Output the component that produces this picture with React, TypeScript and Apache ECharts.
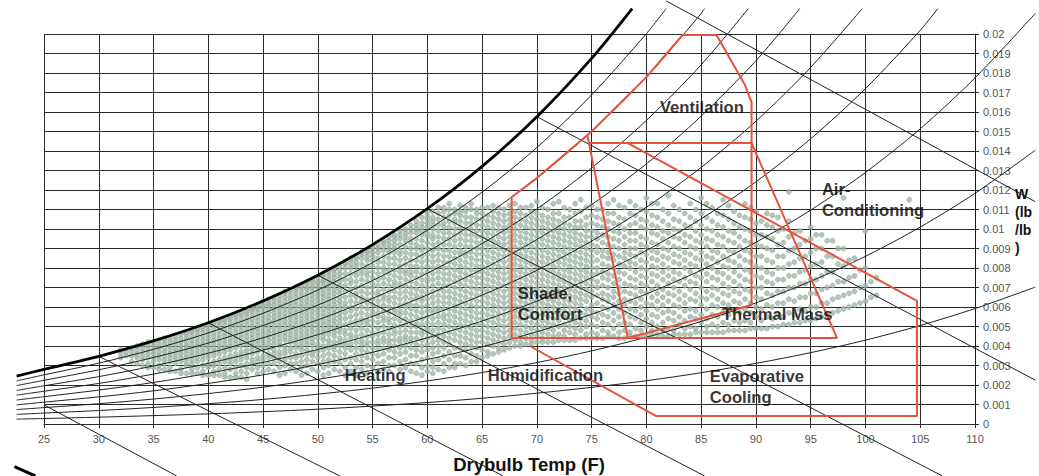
import { useEffect, useRef } from "react";
import * as echarts from "echarts";

const FONT = '"Liberation Sans", Arial, sans-serif';

// Saturation curve and relative-humidity curves (drybulb °F, humidity ratio lb/lb)
const saturation: [number, number][] = [[22.5,0.00246],[25,0.0028],[30,0.00347],[35,0.00426],[40,0.00519],[45,0.00631],[50,0.00763],[55,0.0092],[60,0.01104],[65,0.01321],[70,0.01576],[75,0.01875],[78.7,0.0213]];
const rh90: [number, number][] = [[22.5,0.00221],[25,0.00252],[30,0.00312],[35,0.00383],[40,0.00467],[45,0.00568],[50,0.00687],[55,0.00828],[60,0.00994],[65,0.01189],[70,0.01418],[75,0.01688],[80,0.02002],[81.8,0.0213]];
const rh80: [number, number][] = [[22.5,0.00197],[25,0.00224],[30,0.00278],[35,0.00341],[40,0.00415],[45,0.00505],[50,0.0061],[55,0.00736],[60,0.00883],[65,0.01057],[70,0.01261],[75,0.015],[80,0.01779],[85,0.02105],[85.3,0.0213]];
const rh70: [number, number][] = [[22.5,0.00172],[25,0.00196],[30,0.00243],[35,0.00298],[40,0.00363],[45,0.00442],[50,0.00534],[55,0.00644],[60,0.00773],[65,0.00925],[70,0.01103],[75,0.01313],[80,0.01557],[85,0.01842],[89.3,0.0213]];
const rh60: [number, number][] = [[22.5,0.00148],[25,0.00168],[30,0.00208],[35,0.00256],[40,0.00311],[45,0.00379],[50,0.00458],[55,0.00552],[60,0.00662],[65,0.00793],[70,0.00946],[75,0.01125],[80,0.01334],[85,0.01579],[90,0.01863],[94,0.0213]];
const rh50: [number, number][] = [[22.5,0.00123],[25,0.0014],[30,0.00174],[35,0.00213],[40,0.0026],[45,0.00316],[50,0.00382],[55,0.0046],[60,0.00552],[65,0.00661],[70,0.00788],[75,0.00938],[80,0.01112],[85,0.01316],[90,0.01553],[95,0.01829],[99.7,0.0213]];
const rh40: [number, number][] = [[22.5,0.00098],[25,0.00112],[30,0.00139],[35,0.0017],[40,0.00208],[45,0.00252],[50,0.00305],[55,0.00368],[60,0.00442],[65,0.00528],[70,0.0063],[75,0.0075],[80,0.0089],[85,0.01052],[90,0.01242],[95,0.01463],[100,0.0172],[105,0.02019],[106.6,0.0213]];
const rh30: [number, number][] = [[22.5,0.00074],[25,0.00084],[30,0.00104],[35,0.00128],[40,0.00156],[45,0.00189],[50,0.00229],[55,0.00276],[60,0.00331],[65,0.00396],[70,0.00473],[75,0.00563],[80,0.00667],[85,0.00789],[90,0.00932],[95,0.01097],[100,0.0129],[105,0.01514],[110,0.01775],[115.5,0.02105]];
const rh20: [number, number][] = [[22.5,0.00049],[25,0.00056],[30,0.00069],[35,0.00085],[40,0.00104],[45,0.00126],[50,0.00153],[55,0.00184],[60,0.00221],[65,0.00264],[70,0.00315],[75,0.00375],[80,0.00445],[85,0.00526],[90,0.00621],[95,0.00732],[100,0.0086],[105,0.0101],[110,0.01183],[115.5,0.01404]];
const rh10: [number, number][] = [[22.5,0.00025],[25,0.00028],[30,0.00035],[35,0.00043],[40,0.00052],[45,0.00063],[50,0.00076],[55,0.00092],[60,0.0011],[65,0.00132],[70,0.00158],[75,0.00188],[80,0.00222],[85,0.00263],[90,0.00311],[95,0.00366],[100,0.0043],[105,0.00505],[110,0.00592],[115.5,0.00702]];

// Wet-bulb lines
const wb20: [number, number][] = [[25,0.00098],[37.1,-0.00266]];
const wb30: [number, number][] = [[30,0.00347],[52,-0.00266]];
const wb40: [number, number][] = [[40,0.00519],[66.9,-0.00266]];
const wb50: [number, number][] = [[50,0.00763],[85.3,-0.00266]];
const wb60: [number, number][] = [[60,0.01104],[107,-0.00266]];
const wb70: [number, number][] = [[70,0.01576],[115.5,0.00225]];
const wb80: [number, number][] = [[81.8,0.0217],[115.5,0.0114]];
const stub: [number, number][] = [[22.3,-0.00219],[24.2,-0.00266]];

// Design-strategy zones (red outlines)
const comfortOutline: [number, number][] = [[67.7,0.00441],[67.7,0.01164],[70,0.01261],[75,0.015],[80,0.01779],[83.3,0.01995],[86.4,0.01995],[89,0.01738],[89.6,0.01651],[89.6,0.0061],[78.3,0.00441],[67.7,0.00441]];
const comfortDiagonal: [number, number][] = [[74.6,0.01484],[78.3,0.00441]];
const comfortTop: [number, number][] = [[74.75,0.01441],[89.6,0.01441]];
const thermalMass: [number, number][] = [[89.6,0.01441],[97.4,0.00441],[78.3,0.00441]];
const acEvap: [number, number][] = [[78.3,0.01441],[104.7,0.00631],[104.7,0.00041],[80.9,0.00041],[69.35,0.004]];

// Hourly weather points: drybulb column and humidity ratios (x 1e-4)
const cloudTemps = [32,33,34,35,36,37,38,39,40,41,42,43,44,45,46,47,48,49,50,51,52,53,54,55,56,57,58,59,60,61,62,63,64,65,66,67,68,69,70,71,72,73,74,75,76,77,78,79,80,81,82,83,84,85,86,87,88,89,90,91,92,93,94,95,96,97,98,99,100,101];
const cloudHumidity = [
  "34 36 38",
  "32 35 37 39",
  "30 33 35 37 39 41",
  "29 32 34 36 38 40 42",
  "28 31 33 35 37 39 41 43 44",
  "27 31 33 35 37 39 41 43 45",
  "26 30 32 34 36 38 40 42 44 46 47",
  "26 29 32 34 36 38 40 42 44 46 48 49",
  "25 29 31 34 36 38 40 42 44 46 48 50 51",
  "25 28 31 33 36 38 40 42 44 46 48 50 52 53",
  "24 28 31 33 35 38 40 42 44 46 48 50 52 54 55",
  "24 27 30 33 35 37 40 42 44 46 48 50 52 54 56 57",
  "28 31 33 36 38 40 42 44 46 48 50 52 54 56 58 59 60",
  "27 30 33 35 38 40 42 44 46 48 50 52 54 56 58 60 61 63",
  "27 31 34 36 38 41 43 45 47 49 51 53 55 57 59 61 63 65",
  "26 30 33 36 38 40 43 45 47 49 51 53 55 57 59 61 63 65 67 68",
  "27 31 34 36 39 41 43 45 47 49 51 53 55 57 59 61 63 65 67 69 70",
  "26 30 33 36 38 41 43 45 47 49 51 53 55 57 59 61 63 65 67 69 70 72 73",
  "27 31 34 37 39 41 44 46 48 50 52 54 56 58 60 62 64 66 68 70 72 73 75",
  "26 30 33 36 39 41 43 46 48 50 52 54 56 58 60 62 64 66 68 70 72 74 76 78 79",
  "27 31 34 37 40 42 44 47 49 51 53 55 57 59 61 63 65 67 69 71 73 75 77 79 81",
  "27 31 34 38 41 44 46 49 52 55 58 60 63 66 69 72 74 77 80 82 84 85",
  "28 32 35 38 41 43 46 49 52 54 57 60 63 65 68 71 74 77 79 82 85 87 88",
  "29 33 36 39 42 45 47 50 53 56 58 61 64 67 70 72 75 78 81 84 86 88 90 91",
  "28 32 36 39 42 44 47 50 53 55 58 61 64 66 69 72 75 78 80 83 86 89 91 93 94",
  "30 34 37 40 43 46 48 51 54 57 59 62 65 68 71 73 76 79 82 85 88 90 92 94 96 97",
  "29 33 37 40 43 45 48 51 54 57 60 62 65 68 71 74 77 79 82 85 88 91 94 96 98 100",
  "26 31 35 38 41 44 47 50 52 55 58 61 64 66 69 72 75 78 81 84 87 90 92 95 98 100 102 104",
  "27 30 34 38 41 44 47 49 52 55 58 61 64 67 70 73 75 78 81 84 87 90 93 96 98 101 103 105 107 109",
  "28 33 37 40 43 46 49 52 55 58 60 63 66 69 72 75 78 81 84 87 90 93 96 99 102 105 108 111",
  "29 33 37 41 44 47 50 53 56 59 62 65 68 71 74 77 80 83 86 89 92 95 98 101 104 107 110 113",
  "31 35 39 42 45 48 51 54 57 60 63 66 69 72 75 78 81 84 87 89 92 95 98 101 104 107 109 112",
  "32 36 40 43 46 49 52 55 58 61 64 67 70 73 76 79 82 85 88 91 94 97 100 103 106 110 113",
  "34 38 42 45 48 51 54 57 60 63 66 69 72 75 78 81 84 87 90 93 96 99 102 105 108 111",
  "36 40 43 46 49 52 55 58 61 64 67 70 73 76 79 82 85 88 91 94 97 100 103 106 109 112",
  "38 41 44 47 50 53 56 59 62 65 68 71 74 77 80 83 86 89 92 95 98 101 104 107 110",
  "40 43 46 49 52 55 58 61 64 67 70 73 76 79 82 85 88 91 94 97 100 103 106 109 113",
  "41 44 47 50 53 56 59 62 65 68 71 74 77 80 83 86 89 92 95 98 101 104 107 111",
  "42 45 48 51 54 57 60 63 66 69 72 75 78 81 84 87 90 93 96 99 102 105 108 114",
  "42 46 49 52 55 58 61 64 67 70 73 76 79 82 85 88 91 94 97 100 103 106 110",
  "43 46 50 53 56 59 62 65 68 71 74 77 80 83 86 89 92 95 98 101 104 108 114",
  "43 47 50 53 57 60 63 66 69 72 75 78 81 84 87 90 93 96 99 102 106 110",
  "44 48 51 54 57 61 64 67 70 73 76 79 82 85 88 91 94 97 101 104 109 115",
  "44 47 51 55 58 61 65 68 71 74 77 80 83 86 89 92 96 99 103 107 112",
  "44 48 52 56 60 64 67 71 75 78 82 86 89 93 97 101 105 110",
  "45 49 53 57 61 65 68 72 76 80 84 87 91 95 99 103 108 115",
  "44 48 52 57 61 64 68 72 77 81 85 88 92 96 100 105 111",
  "45 49 54 58 62 66 70 74 78 82 86 90 94 98 103 107 112",
  "45 50 54 58 62 67 71 75 79 83 87 91 95 100 104 109 116",
  "46 50 55 59 63 67 71 76 80 84 88 92 97 101 106 113",
  "45 49 54 58 63 67 72 76 80 85 89 93 98 102 108 117",
  "46 51 55 60 64 68 73 77 82 86 90 95 99 104 110",
  "46 50 55 59 64 69 73 78 82 87 91 96 101 106 113",
  "47 52 56 61 65 70 75 79 84 88 93 97 102 108 116",
  "47 51 56 61 66 70 75 80 85 89 94 99 104 111",
  "47 52 57 62 67 72 77 81 86 91 96 101 107 115",
  "48 53 58 63 68 73 78 83 88 93 98 103 109",
  "48 53 59 64 69 74 79 84 89 94 100 106 113",
  "49 55 60 65 70 76 81 86 92 97 103 109",
  "49 55 61 67 73 78 84 90 96 102 108",
  "50 56 62 68 74 80 86 92 99 106",
  "51 57 64 70 76 82 89 96 104",
  "52 59 65 72 78 85 92 99",
  "53 60 67 74 81 88 95 101",
  "55 62 69 76 83 90 97",
  "57 64 71 78 86 94",
  "59 66 73 81 90 116",
  "61 68 76 85",
  "63 71 80 99",
  "66 75"
];
const cloudHalfTemps = [32.5,33.5,34.5,35.5,36.5,37.5,38.5,39.5,40.5,41.5,42.5,43.5,44.5,45.5,46.5,47.5,48.5,49.5,50.5,51.5,52.5,53.5,54.5,55.5,56.5,57.5,58.5,59.5,60.5,61.5,62.5,63.5,64.5,65.5,66.5,67.5,68.5,69.5,70.5,71.5,72.5,73.5,74.5,75.5,76.5,77.5,78.5,79.5,80.5,81.5,82.5,83.5,84.5,85.5,86.5,87.5,88.5,89.5,90.5,91.5,92.5,93.5,94.5,95.5,96.5,97.5,98.5,99.5,100.5];
const cloudHalfHumidity = [
  "35 37",
  "31 34 36 38 40",
  "29 31 34 36 38 40 42",
  "28 30 33 35 37 39 41 43",
  "27 29 32 34 36 38 40 42 44",
  "26 28 32 34 36 38 40 42 44 46",
  "26 28 31 33 35 37 39 41 43 45 47 48",
  "25 27 30 33 35 37 39 41 43 45 47 49 50",
  "25 27 30 32 35 37 39 41 43 45 47 49 51 52",
  "24 26 29 32 34 37 39 41 43 45 47 49 51 53 54",
  "24 26 29 32 34 36 39 41 43 45 47 49 51 53 55 56",
  "23 26 29 31 34 36 38 41 43 45 47 49 51 53 55 57 58",
  "26 29 32 34 37 39 41 43 45 47 49 51 53 55 57 59 60 61",
  "28 31 34 36 39 41 43 45 47 49 51 53 55 57 59 61 62 64",
  "25 29 32 35 37 40 42 44 46 48 50 52 54 56 58 60 62 64 66",
  "28 31 34 37 39 42 44 46 48 50 52 54 56 58 60 62 64 66 68",
  "25 29 32 35 38 40 42 44 46 48 50 52 54 56 58 60 62 64 66 68 70 71",
  "28 32 35 37 40 42 44 46 48 50 52 54 56 58 60 62 64 66 68 70 71 73 74",
  "25 29 32 35 38 40 43 45 47 49 51 53 55 57 59 61 63 65 67 69 71 73 74 76 77",
  "28 32 35 38 40 42 45 47 49 51 53 55 57 59 61 63 65 67 69 71 73 75 77 79 80",
  "25 29 33 36 39 41 43 46 48 51 54 57 60 62 65 68 71 74 77 80 82 83",
  "25 29 33 36 39 42 45 48 51 53 56 59 62 65 67 70 73 76 78 81 83 85 86",
  "26 30 34 37 40 42 45 48 51 53 56 59 62 64 67 70 73 76 78 81 84 86 88 89",
  "27 31 35 38 41 43 46 49 52 55 57 60 63 66 68 71 74 77 80 83 85 88 90 92",
  "27 30 34 38 41 43 46 49 52 54 57 60 63 65 68 71 74 77 79 82 85 88 90 92 94 96",
  "28 32 36 39 42 44 47 50 53 56 58 61 64 67 70 72 75 78 81 84 87 89 92 95 97 99",
  "27 31 35 39 42 44 47 50 53 56 59 61 64 67 70 73 76 78 81 84 87 90 93 95 98 100 102",
  "25 29 33 37 40 43 46 48 51 54 57 60 63 65 68 71 74 77 80 83 86 89 91 94 97 99 101 103 106",
  "26 29 32 36 39 42 45 48 51 54 57 59 62 65 68 71 74 77 80 83 86 89 92 95 97 100 102 104 106 109",
  "27 31 35 39 42 45 48 51 54 56 59 62 65 68 71 74 77 80 83 86 89 92 95 98 101 103 106 109 111",
  "29 31 35 39 43 46 49 52 55 58 61 64 67 70 73 76 79 82 85 88 91 94 97 100 103 105 108 110",
  "30 34 38 41 44 47 50 53 56 59 62 65 68 71 74 77 80 83 86 88 91 94 97 100 103 106 109 111",
  "32 35 39 42 45 48 51 54 57 60 63 66 69 72 75 78 81 84 87 90 93 96 99 102 105 108 110",
  "35 37 41 44 47 50 53 56 59 62 65 68 71 74 77 80 83 86 89 92 95 98 101 104 107 111",
  "37 39 42 45 48 51 54 57 60 63 66 69 72 75 78 81 84 87 90 93 96 99 102 105 108 111",
  "39 42 45 48 51 54 57 60 63 66 69 72 75 78 81 84 87 90 93 96 99 102 105 108 112",
  "40 42 45 48 51 54 57 60 63 66 69 72 75 78 81 84 87 90 93 96 99 102 105 108 111",
  "41 43 46 49 52 55 58 61 64 67 70 73 76 79 82 85 88 91 94 97 100 103 106 109 112",
  "42 44 47 50 53 56 59 62 65 68 71 74 77 80 83 86 89 92 95 98 101 104 107 111",
  "42 45 48 51 54 57 60 63 66 69 72 75 78 81 84 87 90 93 96 99 102 105 108 113",
  "43 45 48 51 55 58 61 64 67 70 73 76 79 82 85 88 91 94 97 100 103 106 111",
  "43 46 49 52 55 59 62 65 68 71 74 77 80 83 86 89 92 95 98 101 104 108 113",
  "44 46 50 53 56 59 63 66 69 72 75 78 81 84 87 90 93 96 99 102 106 111",
  "44 46 50 54 57 62 66 70 73 77 80 84 88 91 95 98 102 106 110",
  "45 47 51 55 59 63 66 70 74 77 81 85 88 92 96 100 104 108 113",
  "44 47 51 55 59 63 67 70 74 78 82 86 90 94 98 102 106 112",
  "45 47 51 55 59 63 67 71 75 80 83 87 90 94 98 102 108 114",
  "45 48 52 56 60 64 68 72 76 80 84 88 92 96 101 105 110",
  "46 48 52 56 61 65 69 73 77 81 85 89 93 98 102 107 113",
  "45 48 52 57 61 65 69 74 78 82 86 90 95 99 104 110",
  "46 48 53 57 61 66 70 74 78 83 87 91 96 100 105 112",
  "46 49 53 58 62 66 71 75 80 84 88 93 97 102 108",
  "47 49 54 58 63 67 72 76 81 85 90 94 99 104 110",
  "47 50 54 59 64 68 73 77 82 86 91 95 100 106 113",
  "47 50 55 60 64 69 74 78 83 88 92 97 102 108",
  "48 51 56 61 66 70 75 80 84 89 94 99 105 112",
  "48 52 57 62 67 71 76 81 86 91 96 101 107",
  "49 52 57 62 68 73 78 83 88 93 99 105 111",
  "49 53 59 64 70 75 80 86 91 97 104",
  "50 54 60 66 72 77 83 89 95 101 107",
  "51 55 62 68 74 80 86 93 100",
  "52 56 63 70 76 83 90 98",
  "53 58 65 72 79 86 94",
  "54 60 67 74 82 90 97",
  "56 62 70 78 86 94",
  "58 65 73 82 90",
  "60 67 75 84",
  "62 70 79",
  "65 73"
];
const cloudOutliers: [number, number][] = [[104,0.0115],[93,0.0119]];

// Zone labels
const zoneNames = ["Ventilation","Air-\nConditioning","Shade,\nComfort","Thermal Mass","Heating","Humidification","Evaporative\nCooling"];
const zoneTemps = [81.23,96.02,68.26,86.89,52.46,65.52,85.79];
const zoneHumidity = [0.016256,0.011487,0.006179,0.005641,0.002462,0.002462,0.001923];

const xTitle = "Drybulb Temp (F)";
const yTitle = "W\n(lb\n/lb\n)";

// Plot frame: drybulb 25..110 °F, humidity ratio 0..0.02
const xMin = 25, xMax = 110, yMin = 0, yMax = 0.02;
const gridLeft = 44, gridRight = 64, gridTop = 34, gridBottom = 52;
const W_PX = 1039, H_PX = 476;

export default function App() {
  const ref = useRef<HTMLDivElement>(null);
  useEffect(() => {
    if (!ref.current) return;
    const chart = echarts.init(ref.current, undefined, { renderer: "svg" });

    const cloud: [number, number][] = [];
    cloudTemps.forEach((t, i) => {
      cloudHumidity[i].split(" ").forEach((w) => cloud.push([t, Number(w) / 10000]));
    });
    cloudHalfTemps.forEach((t, i) => {
      cloudHalfHumidity[i].split(" ").forEach((w) => cloud.push([t, Number(w) / 10000]));
    });
    cloudOutliers.forEach((p) => cloud.push(p));

    // full-canvas coordinate system aligned with the plot frame, so curves may run past the frame
    const plotW = W_PX - gridLeft - gridRight;
    const plotH = H_PX - gridTop - gridBottom;
    const fxMin = xMin - (gridLeft * (xMax - xMin)) / plotW;
    const fxMax = xMax + (gridRight * (xMax - xMin)) / plotW;
    const fyMin = yMin - (gridBottom * (yMax - yMin)) / plotH;
    const fyMax = yMax + (gridTop * (yMax - yMin)) / plotH;

    const onFull = { xAxisIndex: 1, yAxisIndex: 1 };
    const thin = (data: [number, number][], smooth = 0.3) => ({
      type: "line", data, symbol: "none", clip: false, silent: true, smooth, ...onFull,
      lineStyle: { color: "#222", width: 1 }, z: 3,
    });
    const red = (data: [number, number][]) => ({
      type: "line", data, symbol: "none", clip: false, silent: true,
      lineStyle: { color: "#e4533c", width: 2 }, z: 5,
    });

    const option: any = {
      animation: false,
      backgroundColor: "#ffffff",
      grid: [
        { left: gridLeft, right: gridRight, top: gridTop, bottom: gridBottom },
        { left: 0, right: 0, top: 0, bottom: 0 },
      ],
      xAxis: [
        {
          type: "value", min: xMin, max: xMax, interval: 5, gridIndex: 0,
          axisLine: { show: true, lineStyle: { color: "#2a2a2a" } },
          axisTick: { show: true, length: 4, lineStyle: { color: "#2a2a2a" } },
          axisLabel: { fontSize: 11, color: "#555", margin: 9, fontFamily: FONT },
          splitLine: { show: true, lineStyle: { color: "#2a2a2a", width: 1 } },
        },
        { type: "value", min: fxMin, max: fxMax, gridIndex: 1, show: false, splitLine: { show: false } },
      ],
      yAxis: [
        {
          type: "value", position: "right", min: yMin, max: yMax, interval: 0.001, gridIndex: 0,
          axisLine: { show: true, lineStyle: { color: "#1a1a1a" } },
          axisTick: { show: true, length: 4, lineStyle: { color: "#2a2a2a" } },
          axisLabel: {
            fontSize: 11, color: "#555", margin: 8, fontFamily: FONT,
            formatter: (v: number) => String(Number(v.toFixed(3))),
          },
          splitLine: { show: true, lineStyle: { color: "#2a2a2a", width: 1 } },
        },
        { type: "value", min: fyMin, max: fyMax, gridIndex: 1, show: false, splitLine: { show: false } },
      ],
      series: [
        {
          type: "scatter", data: cloud, symbolSize: 5, silent: true, z: 2,
          itemStyle: { color: "#a2b8aa", borderColor: "#7c9585", borderWidth: 0.5 },
        },
        thin(rh90), thin(rh80), thin(rh70), thin(rh60), thin(rh50),
        thin(rh40), thin(rh30), thin(rh20), thin(rh10),
        thin(wb20, 0), thin(wb30, 0), thin(wb40, 0), thin(wb50, 0),
        thin(wb60, 0), thin(wb70, 0), thin(wb80, 0),
        {
          type: "line", data: saturation, symbol: "none", clip: false, silent: true, smooth: 0.3, ...onFull,
          lineStyle: { color: "#000", width: 2.8 }, z: 4,
        },
        {
          type: "line", data: stub, symbol: "none", clip: false, silent: true, ...onFull,
          lineStyle: { color: "#000", width: 3 }, z: 4,
        },
        red(comfortOutline), red(comfortDiagonal), red(comfortTop), red(thermalMass), red(acEvap),
        {
          type: "scatter", silent: true, z: 10, symbolSize: 0, clip: false,
          data: zoneNames.map((n, i) => ({
            value: [zoneTemps[i], zoneHumidity[i]],
            label: { show: true, formatter: n },
          })),
          itemStyle: { color: "transparent" },
          label: {
            show: true, position: "right", distance: 0, fontSize: 16.6, fontWeight: "bold",
            color: "#000", lineHeight: 21, fontFamily: FONT, align: "left",
          },
        },
      ],
      graphic: [
        {
          type: "text", x: 529, y: 464, z: 20,
          style: {
            text: xTitle, font: `bold 18.5px ${FONT}`, fill: "#111",
            align: "center", verticalAlign: "middle", textAlign: "center", textVerticalAlign: "middle",
          },
        },
        {
          type: "text", x: 1015, y: 185, z: 20,
          style: {
            text: yTitle, font: `bold 14px ${FONT}`, fill: "#111", lineHeight: 18,
            align: "left", verticalAlign: "top", textAlign: "left", textVerticalAlign: "top",
          },
        },
      ],
    };
    chart.setOption(option);
    return () => chart.dispose();
  }, []);
  return (
    <div
      ref={ref}
      style={{ position: "fixed", left: 0, top: 0, width: W_PX, height: H_PX, background: "#fff" }}
    />
  );
}
